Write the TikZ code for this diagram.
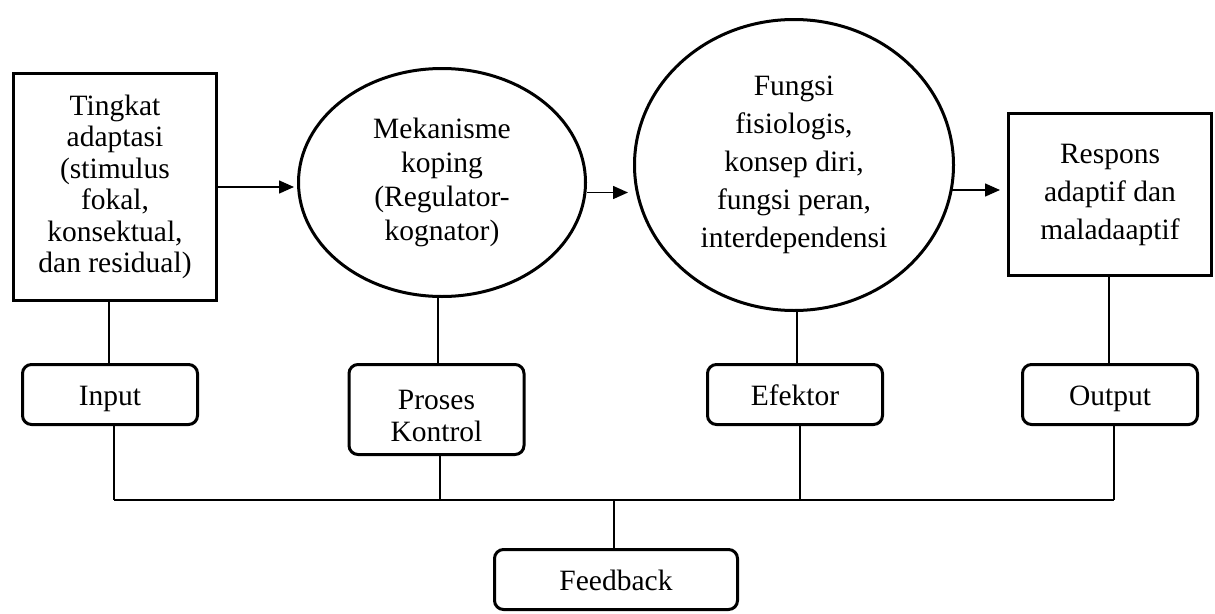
\documentclass[tikz,border=0pt]{standalone}
\usepackage{fontspec}
\setmainfont{Liberation Serif}
\usetikzlibrary{shapes.geometric,arrows.meta}
\begin{document}
\begin{tikzpicture}[x=1pt,y=-1pt,
  box/.style={draw,line width=3pt,inner sep=0pt,align=center},
  ell/.style={ellipse,draw,line width=3pt,inner sep=0pt,align=center},
  rbox/.style={draw,line width=3pt,rounded corners=9pt,inner sep=0pt,align=center,
               minimum width=175pt,minimum height=60pt,font=\fontsize{29.5}{32}\selectfont},
  oneline/.style={text height=21pt,text depth=0pt},
  conn/.style={line width=1.3pt},
  arr/.style={line width=1.5pt,-{Triangle[length=15pt,width=13pt]}}]
\useasboundingbox (0,0) rectangle (1215,613);

% top row
\node[box,minimum width=203pt,minimum height=227pt,font=\fontsize{29.5}{31.5}\selectfont] (b1) at (115,187)
  {Tingkat\\adaptasi\\(stimulus\\fokal,\\konsektual,\\dan residual)};
\node[ell,minimum width=287pt,minimum height=228pt,font=\fontsize{29.5}{34}\selectfont] (e1) at (442,182.5)
  {Mekanisme\\koping\\(Regulator-\\kognator)};
\node[ell,minimum width=319pt,minimum height=291pt,font=\fontsize{29.5}{38}\selectfont] (c2) at (794,165)
  {Fungsi\\fisiologis,\\konsep diri,\\fungsi peran,\\interdependensi};
\node[box,minimum width=203pt,minimum height=162pt,font=\fontsize{29.5}{38}\selectfont] (b4) at (1110,194.5)
  {Respons\\adaptif dan\\maladaaptif};

% middle row
\node[rbox,oneline] (in) at (110,394.5) {Input};
\node[rbox,minimum height=90pt] (pk) at (436.5,409.5) {\rule{0pt}{32pt}Proses\\Kontrol};
\node[rbox,oneline] (ef) at (795,394.5) {Efektor};
\node[rbox,oneline] (out) at (1110,394.5) {Output};

% bottom
\node[rbox,oneline,minimum width=243pt] (fb) at (616,579.5) {Feedback};

% arrows
\draw[arr,shorten >=3pt] (b1.east) -- (b1.east -| e1.west);
\draw[arr,shorten >=5pt] ([yshift=-10pt]e1.east) -- ([yshift=-10pt]e1.east -| c2.west);
\draw[arr,shorten >=7pt] ([yshift=-25pt,xshift=-3pt]c2.east) -- ([yshift=-25pt]c2.east -| b4.west);

% connectors
\coordinate (busL) at (114,500);
\coordinate (busR) at (1114,500);
\draw[conn] (busL) -- (busR);

\draw[conn] ([xshift=-1pt]in.north) -- ([xshift=-1pt]in.north |- b1.south);
\draw[conn] ([xshift=4pt]in.south) -- ([xshift=4pt]in.south |- busL);

\draw[conn] ([xshift=1.5pt]pk.north) -- ([xshift=1.5pt]pk.north |- e1.south);
\draw[conn] ([xshift=3.5pt]pk.south) -- ([xshift=3.5pt]pk.south |- busL);

\draw[conn] ([xshift=2pt]ef.north) -- ([xshift=2pt]ef.north |- c2.south);
\draw[conn] ([xshift=5pt]ef.south) -- ([xshift=5pt]ef.south |- busL);

\draw[conn] ([xshift=-1pt]out.north) -- ([xshift=-1pt]out.north |- b4.south);
\draw[conn] ([xshift=4pt]out.south) -- (busR);

\draw[conn] ([xshift=-2pt]fb.north) -- ([xshift=-2pt]fb.north |- busL);
\end{tikzpicture}
\end{document}
